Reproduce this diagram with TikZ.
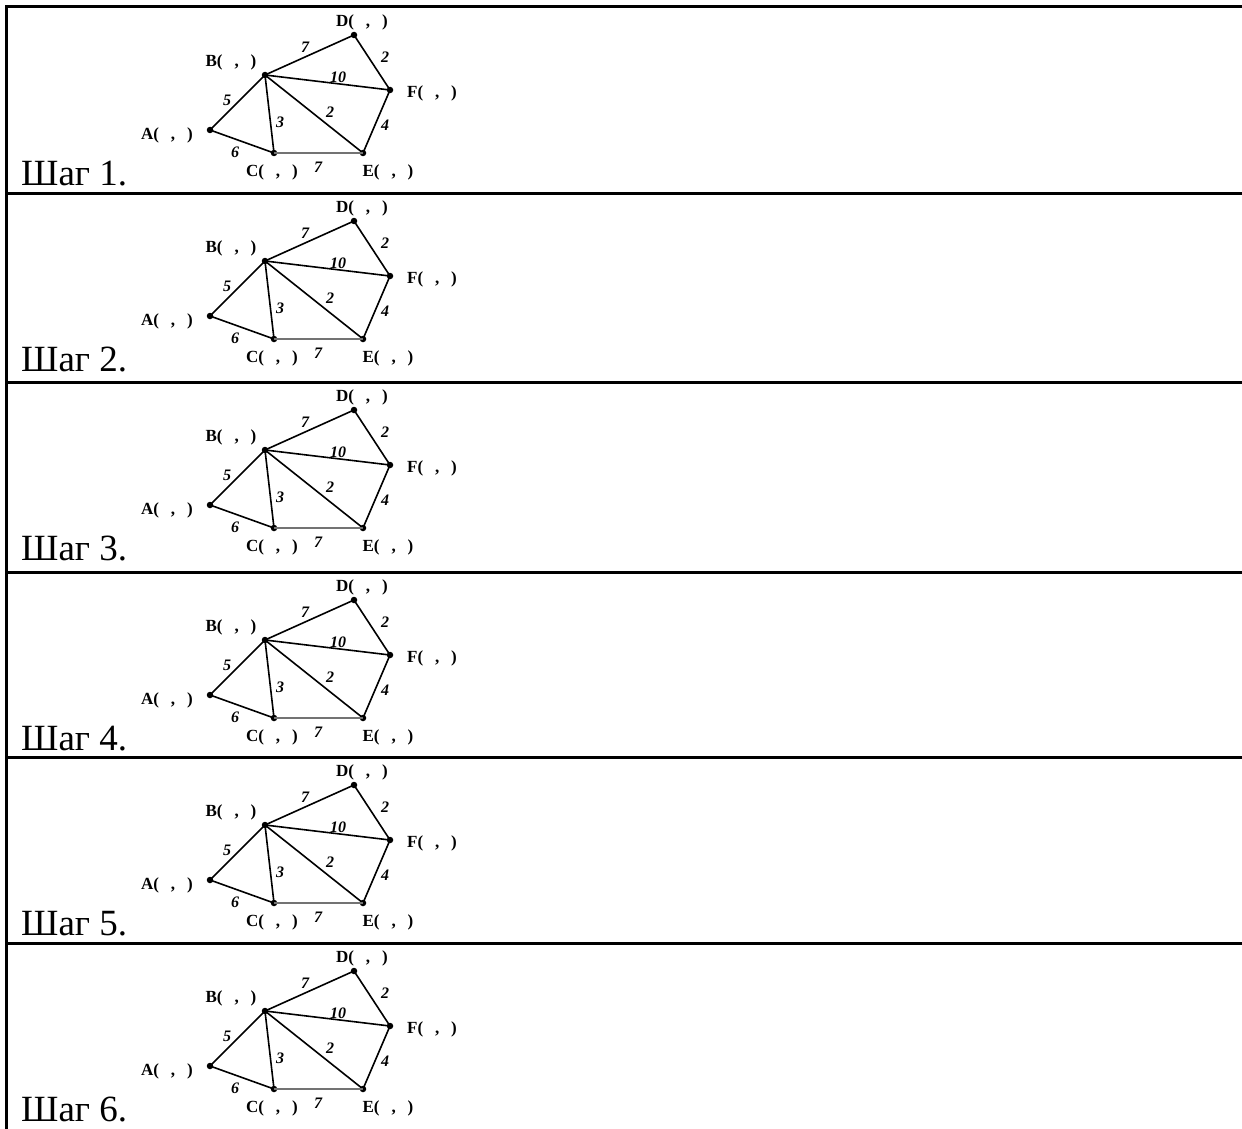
\documentclass[tikz,border=0pt]{standalone}
\usepackage{fontspec}
\setmainfont{Liberation Serif}
\newcommand{\gp}{\hspace{0.7em}}
\begin{document}
\begin{tikzpicture}[x=1pt,y=-1pt,
  vtx/.style={circle,fill=black,inner sep=0pt,minimum size=6.5pt},
  vlab/.style={font=\fontsize{17}{17}\selectfont\bfseries,inner sep=0pt},
  wlab/.style={font=\fontsize{16}{16}\selectfont\bfseries\itshape,inner sep=0pt},
  edge/.style={line width=1.6pt},
  steplab/.style={font=\fontsize{37}{37}\selectfont,anchor=base west,inner sep=0pt},
  rule/.style={line width=3pt}]
\useasboundingbox (0,0) rectangle (1242,1129);
\draw[rule] (6.5,1129) -- (6.5,5.5);
\foreach \i/\r in {1/7,2/193,3/382,4/572,5/757,6/943}{
  \draw[rule] (5,\r) -- (1242,\r);
  \node[steplab] (S\i) at (21,\r+178) {Шаг \i.};
  \node[vtx] (B\i) at (265,\r+68) {};
  \node[vtx] (D\i) at (354,\r+28) {};
  \node[vtx] (F\i) at (390,\r+83) {};
  \node[vtx] (A\i) at (210,\r+123) {};
  \node[vtx] (C\i) at (274,\r+146) {};
  \node[vtx] (E\i) at (363,\r+146) {};
  \node[vlab] (LD\i) at (362,\r+15) {D(\gp,\gp)};
  \node[vlab] (LB\i) at (231,\r+55) {B(\gp,\gp)};
  \node[vlab] (LF\i) at (432,\r+86) {F(\gp,\gp)};
  \node[vlab] (LA\i) at (167,\r+128) {A(\gp,\gp)};
  \node[vlab] (LC\i) at (272,\r+165) {C(\gp,\gp)};
  \node[vlab] (LE\i) at (388,\r+165) {E(\gp,\gp)};
  \draw[edge] (B\i.center) -- (D\i.center);
  \draw[edge] (D\i.center) -- (F\i.center);
  \draw[edge] (B\i.center) -- (F\i.center);
  \draw[edge] (A\i.center) -- (B\i.center);
  \draw[edge] (B\i.center) -- (C\i.center);
  \draw[edge] (B\i.center) -- (E\i.center);
  \draw[edge] (F\i.center) -- (E\i.center);
  \draw[edge] (A\i.center) -- (C\i.center);
  \draw[edge,black!55] (C\i.center) -- (E\i.center);
  \node[wlab] (wBD\i) at (305,\r+40) {7};
  \node[wlab] (wDF\i) at (385,\r+50) {2};
  \node[wlab] (wBF\i) at (338,\r+70) {10};
  \node[wlab] (wAB\i) at (227,\r+93) {5};
  \node[wlab] (wBC\i) at (280,\r+115) {3};
  \node[wlab] (wBE\i) at (330,\r+105) {2};
  \node[wlab] (wFE\i) at (385,\r+118) {4};
  \node[wlab] (wAC\i) at (235,\r+145) {6};
  \node[wlab] (wCE\i) at (318,\r+160) {7};
}
\end{tikzpicture}
\end{document}
